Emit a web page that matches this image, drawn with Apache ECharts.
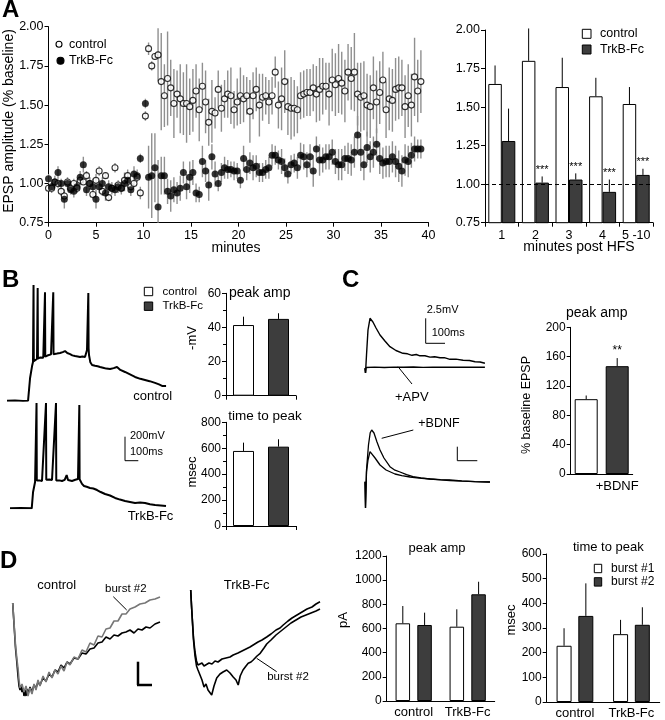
<!DOCTYPE html>
<html><head><meta charset="utf-8">
<script src="https://cdn.jsdelivr.net/npm/echarts@6/dist/echarts.min.js"></script>
<style>html,body{margin:0;padding:0;background:#fff}#c{width:665px;height:720px}</style>
</head><body><div id="c"></div>
<script>
// ---------------- DATA ----------------
// Panel A (left): EPSP amplitude vs time, sampled every 20 s
const BASE_START = 0, POST_START = 10.2, STEP_MIN = 1 / 3;
const ctrlBase = [0.97,0.97,1.01,1.00,0.95,0.92,1.01,0.97,1.00,0.97,1.02,1.01,1.05,1.00,0.93,1.02,1.08,0.95,1.05,0.91,0.97,1.10,0.99,0.97,1.02,1.05,0.98,1.00,1.04,0.94];
const ctrlBaseErr = [0.02,0.03,0.02,0.03,0.03,0.04,0.02,0.03,0.03,0.02,0.03,0.02,0.03,0.04,0.03,0.04,0.03,0.03,0.02,0.02,0.03,0.03,0.02,0.03,0.05,0.04,0.03,0.02,0.03,0.04];
const trkBase = [1.03,0.98,1.01,1.07,1.00,0.90,1.00,0.96,0.95,0.98,1.04,1.12,0.96,1.00,0.98,0.90,0.98,1.00,0.94,0.98,0.97,0.96,0.98,0.97,1.00,1.02,0.96,1.06,1.05,1.16];
const trkBaseErr = [0.03,0.03,0.04,0.04,0.03,0.06,0.04,0.03,0.04,0.04,0.04,0.05,0.04,0.04,0.05,0.06,0.04,0.04,0.05,0.04,0.04,0.04,0.04,0.04,0.05,0.05,0.04,0.05,0.04,0.03];
const ctrlPost = [1.43,1.86,1.75,1.81,1.82,1.65,1.56,1.67,1.61,1.51,
  1.57,1.54,1.51,1.51,1.49,1.53,1.59,1.47,1.62,1.52,
  1.39,1.46,1.45,1.60,1.48,1.54,1.57,1.56,1.47,1.52,
  1.56,1.54,1.56,1.46,1.56,1.60,1.50,1.55,1.56,1.52,
  1.56,1.71,1.50,1.54,1.65,1.49,1.48,1.48,1.47,1.56,
  1.57,1.58,1.58,1.61,1.57,1.60,1.62,1.62,1.57,1.66,
  1.63,1.67,1.64,1.59,1.71,1.67,1.71,1.57,1.55,1.56,
  1.50,1.49,1.61,1.52,1.58,1.66,1.47,1.54,1.53,1.60,
  1.61,1.61,1.49,1.56,1.50,1.68,1.59,1.65];
const ctrlPostErr = [0.03,0.04,0.03,0.02,0.17,0.31,0.20,0.30,0.18,0.22,
  0.15,0.22,0.20,0.25,0.18,0.20,0.17,0.20,0.15,0.20,
  0.15,0.20,0.10,0.12,0.15,0.12,0.15,0.18,0.12,0.15,
  0.18,0.15,0.12,0.20,0.15,0.14,0.20,0.15,0.12,0.14,
  0.12,0.10,0.15,0.20,0.20,0.18,0.20,0.18,0.15,0.15,
  0.15,0.15,0.15,0.15,0.18,0.20,0.18,0.15,0.20,0.20,
  0.20,0.22,0.20,0.20,0.18,0.20,0.25,0.20,0.22,0.22,
  0.20,0.20,0.20,0.20,0.20,0.18,0.18,0.20,0.20,0.20,
  0.20,0.18,0.20,0.20,0.20,0.25,0.20,0.20];
const trkPost = [1.51,1.04,1.05,1.10,0.85,1.05,1.05,0.95,0.92,0.96,
  0.94,0.97,1.07,0.98,1.04,1.07,0.94,0.93,1.14,1.08,
  0.99,1.17,1.06,1.00,1.07,1.10,1.09,1.09,1.08,1.08,
  1.02,1.16,1.09,1.13,1.10,1.11,1.07,1.07,1.09,1.10,
  1.18,1.18,1.15,1.14,1.10,1.06,1.12,1.13,1.10,1.18,
  1.17,1.12,1.17,1.08,1.22,1.15,1.15,1.17,1.17,1.20,
  1.14,1.12,1.12,1.16,1.16,1.15,1.20,1.31,1.20,1.12,
  1.23,1.17,1.20,1.25,1.16,1.13,1.14,1.14,1.17,1.14,
  1.11,1.08,1.15,1.14,1.18,1.22,1.22,1.22];
const trkPostErr = [0.03,0.20,0.27,0.22,0.30,0.12,0.12,0.08,0.10,0.08,
  0.07,0.08,0.07,0.08,0.10,0.08,0.06,0.05,0.10,0.07,
  0.10,0.08,0.08,0.05,0.06,0.07,0.06,0.05,0.06,0.05,
  0.05,0.08,0.07,0.07,0.08,0.07,0.06,0.06,0.06,0.07,
  0.07,0.06,0.06,0.08,0.06,0.06,0.06,0.06,0.07,0.08,
  0.08,0.08,0.08,0.10,0.08,0.10,0.08,0.08,0.08,0.08,
  0.08,0.10,0.10,0.08,0.10,0.10,0.10,0.12,0.12,0.10,
  0.10,0.10,0.10,0.10,0.10,0.10,0.10,0.10,0.10,0.10,
  0.10,0.10,0.10,0.10,0.08,0.08,0.06,0.06];

// Panel A (right): minutes post HFS
const hfsCats = ['1','2','3','4','5 -10'];
const hfsCtrl = [1.65,1.80,1.63,1.57,1.52];
const hfsCtrlHi = [1.77,2.01,1.82,1.69,1.63];
const hfsTrk = [1.28,1.01,1.03,0.95,1.06];
const hfsTrkHi = [1.49,1.05,1.07,1.03,1.10];
const hfsStars = ['','***','***','***','***'];

// Panel B bars
const bGroups = ['control','TrkB-Fc'];
const bPeak = [41.4,45.0], bPeakHi = [46.3,48.3];
const bTtp = [579,612], bTtpHi = [643,669];

// Panel C bars
const cCats = ['','+BDNF'];
const cPeak = [102,147], cPeakHi = [107,158];
const cStars = ['','**'];

// Panel D bars
const dCats = ['control','TrkB-Fc'];
const dPeakB1 = [643,615], dPeakB1Hi = [786,759];
const dPeakB2 = [629,883], dPeakB2Hi = [731,987];
const dTtpB1 = [228,275], dTtpB1Hi = [299,333];
const dTtpB2 = [349,313], dTtpB2Hi = [481,384];

// Traces [ms, mV] / [ms, pA]
const bCtrlTrace = [[0,0],[60,2],[120,-2],[158,0],[173,195],[188,298],[195,332],[199,994],[201,340],[203,350],[215,352],[225,359],[230,968],[232,362],[235,367],[250,372],[263,376],[272,370],[285,933],[287,378],[290,376],[303,388],[315,393],[330,398],[347,933],[349,400],[353,393],[375,405],[398,410],[418,418],[435,427],[452,410],[473,401],[490,390],[510,384],[530,380],[548,376],[565,380],[585,376],[600,436],[610,925],[612,450],[615,393],[625,330],[638,307],[660,300],[680,296],[698,290],[720,284],[745,276],[773,272],[800,280],[825,290],[850,265],[885,247],[915,230],[960,204],[1000,188],[1035,178],[1070,168],[1110,153],[1140,140],[1163,127],[1193,127]];
const bTrkTrace = [[0,0],[80,2],[163,0],[173,140],[188,226],[197,230],[199,906],[201,238],[203,235],[220,240],[240,235],[255,238],[270,906],[272,245],[275,243],[295,248],[315,243],[330,240],[345,906],[347,238],[350,235],[370,240],[390,235],[410,245],[425,286],[435,243],[450,238],[465,235],[490,245],[510,252],[520,889],[522,250],[525,243],[540,210],[555,192],[575,185],[600,175],[625,170],[653,157],[680,140],[713,123],[750,110],[788,89],[825,75],[863,63],[900,55],[938,46],[975,50],[1013,46],[1050,35],[1088,28],[1130,25],[1170,20]];
const cCtrlTop = [[0,0],[2.6,-0.47],[7.8,1.33],[15.5,3.83],[25.9,5.0],[41,4.63],[57,4.03],[77.6,3.33],[103,2.73],[129,2.16],[160,1.78],[196,1.5],[220,1.45],[243,1.3],[265,1.38],[284,1.25],[310,1.25],[336,1.12],[360,1.15],[388,1.05],[410,1.06],[439,0.9],[470,0.92],[507,0.8],[540,0.78],[569,0.65],[595,0.63],[620,0.5]];
const cApv = [[0,0],[2.6,-0.47],[6,0.08],[50,0.12],[100,0.08],[150,0.12],[200,0.1],[250,0.13],[300,0.09],[350,0.12],[400,0.1],[450,0.12],[500,0.1],[550,0.12],[620,0.1]];
const cBdnf = [[0,0],[2.6,-2.63],[7.8,1.17],[18,3.67],[27,4.9],[34.6,5.17],[46.5,4.87],[62,3.97],[77.6,3.17],[98,2.37],[129,1.5],[155,1.15],[181,0.97],[215,0.7],[248,0.5],[290,0.38],[336,0.27],[390,0.2],[439,0.17],[500,0.08],[569,0],[646,-0.03]];
const cCtrlBottom = [[0,0],[2.6,-2.63],[7.8,0.97],[15.5,2.17],[25.9,3.0],[36,2.87],[52,2.37],[77.6,1.67],[109,1.17],[155,0.77],[190,0.6],[233,0.47],[280,0.36],[336,0.27],[390,0.18],[439,0.12],[500,0.06],[569,0],[646,-0.03]];
const dCtrlBurst1 = [[0,-30],[1.6,-160],[3.6,-320],[5.6,-480],[8.6,-640],[10.6,-760],[12.6,-860],[14.6,-900],[16.6,-860],[18.6,-920],[20.6,-880],[22.6,-960],[24.6,-900],[26.6,-960],[28.6,-890],[30.6,-940],[34.6,-870],[38.6,-920],[42.6,-850],[46.6,-880],[50.6,-820],[54.6,-850],[60.6,-780],[66.6,-810],[72.6,-740],[78.6,-770],[84.6,-700],[90.6,-720],[96.6,-650],[102.6,-680],[108.6,-620],[114.6,-640],[122.6,-580],[130.6,-590],[138.6,-530],[146.6,-540],[154.6,-490],[162.6,-480],[170.6,-430],[178.6,-420],[186.6,-370],[194.6,-390],[202.6,-350],[210.6,-360],[218.6,-330],[226.6,-320],[234.6,-300],[242.6,-330],[250.6,-290],[258.6,-300],[266.6,-270],[274.6,-280],[284.6,-240],[294.6,-220]];
const dCtrlBurst2 = [[0,-30],[1.6,-150],[3.6,-300],[5.6,-450],[8.6,-600],[10.6,-680],[12.6,-800],[14.6,-880],[18.6,-840],[22.6,-920],[26.6,-860],[30.6,-960],[34.6,-880],[38.6,-940],[42.6,-840],[46.6,-900],[50.6,-800],[54.6,-860],[60.6,-760],[66.6,-820],[72.6,-720],[78.6,-780],[84.6,-700],[90.6,-740],[96.6,-660],[102.6,-710],[108.6,-620],[114.6,-650],[122.6,-570],[130.6,-590],[138.6,-500],[146.6,-520],[154.6,-430],[162.6,-450],[170.6,-360],[178.6,-370],[186.6,-290],[194.6,-280],[202.6,-210],[210.6,-210],[218.6,-140],[226.6,-140],[234.6,-90],[244.6,-70],[254.6,-40],[264.6,-30],[274.6,0],[284.6,10],[294.6,30]];
const dTrkBurst1 = [[0,100],[1.6,-50],[3.6,-220],[5.6,-380],[8.6,-520],[11.6,-610],[14.6,-650],[18.6,-650],[22.6,-630],[26.6,-660],[30.6,-640],[36.6,-630],[42.6,-640],[48.6,-610],[54.6,-620],[62.6,-590],[70.6,-580],[78.6,-570],[85,-550],[94.6,-530],[102.6,-510],[110.6,-490],[118.6,-470],[125,-450],[134.6,-420],[142.6,-400],[152,-370],[160.6,-340],[170.6,-300],[178.6,-280],[185,-250],[194.6,-210],[202.6,-180],[212.6,-150],[222.6,-120],[232.6,-90],[242.6,-70],[250.6,-40],[258.6,-17]];
const dTrkBurst2 = [[0,100],[1.6,-60],[3.6,-230],[5.6,-400],[8.6,-560],[11.6,-660],[14.6,-700],[18.6,-720],[22.6,-800],[26.6,-870],[30.6,-840],[34.6,-900],[38.6,-920],[42,-950],[46.6,-860],[52,-780],[58.6,-740],[64.6,-720],[72,-700],[78.6,-730],[85,-770],[90.6,-800],[95,-850],[99,-760],[104.6,-700],[110.6,-660],[115,-633],[120.6,-620],[125,-600],[132.6,-560],[139,-533],[146.6,-480],[152,-440],[160.6,-400],[170.6,-350],[180.6,-310],[190.6,-270],[200.6,-230],[210.6,-200],[220.6,-170],[230.6,-150],[240.6,-130],[250.6,-110],[258.6,-90]];

// ---------------- BUILD ----------------
const FF = "'Liberation Sans', Arial, Helvetica, sans-serif";
const DARK = '#3d3d3d';
const GRAY = '#8f8f8f';
const plain = v => String(v);

function times(base, post) {
  return base.map((v, i) => BASE_START + i * STEP_MIN).concat(post.map((v, i) => POST_START + i * STEP_MIN));
}
const tAll = times(ctrlBase, ctrlPost);
const ctrlAll = ctrlBase.concat(ctrlPost), ctrlErrAll = ctrlBaseErr.concat(ctrlPostErr);
const trkAll = trkBase.concat(trkPost), trkErrAll = trkBaseErr.concat(trkPostErr);

function lab(size, margin, fmt) {
  return { color: '#000', fontSize: size, fontFamily: FF, margin, formatter: fmt || plain, interval: 0, hideOverlap: false };
}
function vAxis(gridIndex, min, max, interval, extra) {
  return Object.assign({
    type: 'value', gridIndex, min, max, interval,
    axisLine: { show: true, lineStyle: { color: '#000', width: 1 } },
    axisTick: { show: true, length: 4, lineStyle: { color: '#000' } },
    axisLabel: lab(12, 5),
    splitLine: { show: false }
  }, extra || {});
}
function cAxis(gridIndex, data, extra) {
  return Object.assign({
    type: 'category', gridIndex, data,
    axisLine: { show: true, lineStyle: { color: '#000', width: 1 } },
    axisTick: { show: true, length: 4, lineStyle: { color: '#000' } },
    axisLabel: { color: '#000', fontSize: 12, fontFamily: FF, margin: 5, interval: 0 },
    splitLine: { show: false }
  }, extra || {});
}
function hAxis(gridIndex, min, max) { return { type: 'value', gridIndex, min, max, show: false }; }
function catLab(size, margin) { return { color: '#000', fontSize: size, fontFamily: FF, margin, interval: 0, hideOverlap: false }; }

const grids = [
  { left: 48.5, top: 26.7, width: 380, height: 196 },      // 0 A scatter
  { left: 485, top: 30, width: 168, height: 192.7 },       // 1 A bars
  { left: 226, top: 293.3, width: 70, height: 102.4 },     // 2 B peak
  { left: 226, top: 422.3, width: 70, height: 103.7 },     // 3 B ttp
  { left: 570.7, top: 327.3, width: 62, height: 146.7 },   // 4 C bars
  { left: 386.7, top: 556, width: 108, height: 145 },      // 5 D peak
  { left: 546.7, top: 554, width: 113, height: 148.3 },    // 6 D ttp
  { left: 7, top: 284.4, width: 159, height: 116.3 },      // 7 B ctrl trace
  { left: 10, top: 392, width: 156, height: 116.3 },       // 8 B trk trace
  { left: 365, top: 313.3, width: 120, height: 65 },       // 9 C top traces
  { left: 365, top: 426.7, width: 125, height: 85 },       // 10 C bottom traces
  { left: 12.7, top: 590, width: 147.3, height: 110 },     // 11 D ctrl traces
  { left: 190.7, top: 590, width: 131.3, height: 110 }     // 12 D trk traces
];

const xAxes = [
  vAxis(0, 0, 40, 5, { axisLabel: lab(12.5, 6) }),
  cAxis(1, hfsCats, { axisLabel: catLab(12.5, 6) }),
  cAxis(2, bGroups, { axisLabel: { show: false } }),
  cAxis(3, bGroups, { axisLabel: { show: false } }),
  cAxis(4, cCats, { axisTick: { show: false }, axisLabel: catLab(13, 6) }),
  cAxis(5, dCats, { axisTick: { show: false }, axisLabel: catLab(13, 5) }),
  cAxis(6, dCats, { axisTick: { show: false }, axisLabel: catLab(13, 5) }),
  hAxis(7, 0, 1192.5), hAxis(8, 0, 1170), hAxis(9, 0, 620.4), hAxis(10, 0, 646.25),
  hAxis(11, 0, 294.6), hAxis(12, 0, 262.6)
];
const f2 = v => v.toFixed(2);
const yAxes = [
  vAxis(0, 0.75, 2.0, 0.25, { axisLabel: lab(12.5, 5, f2) }),
  vAxis(1, 0.75, 2.0, 0.25, { axisLabel: lab(12.5, 5, f2) }),
  vAxis(2, 0, 60, 20, { minorTick: { show: true, splitNumber: 2, length: 3, lineStyle: { color: '#000' } } }),
  vAxis(3, 0, 800, 200, { minorTick: { show: true, splitNumber: 2, length: 3, lineStyle: { color: '#000' } } }),
  vAxis(4, 0, 200, 40),
  vAxis(5, 0, 1200, 200),
  vAxis(6, 0, 600, 100),
  hAxis(7, 0, 1000), hAxis(8, 0, 1000), hAxis(9, -1, 5.5), hAxis(10, -3, 5.5),
  hAxis(11, -1000, 100), hAxis(12, -1000, 100)
];

// error bar renderers
function scatterErr(xi, data) {
  return {
    type: 'custom', xAxisIndex: xi, yAxisIndex: xi, clip: true, silent: true, z: 1,
    renderItem: (p, api) => {
      const x = api.value(0), v = api.value(1), e = api.value(2);
      const a = api.coord([x, v - e]), b = api.coord([x, v + e]);
      return { type: 'line', shape: { x1: a[0], y1: a[1], x2: b[0], y2: b[1] }, style: { stroke: GRAY, lineWidth: 1.4 } };
    },
    data
  };
}
function barErr(ai, tops, his, offset, stars, starSize) {
  return {
    type: 'custom', xAxisIndex: ai, yAxisIndex: ai, silent: true, z: 5,
    renderItem: (p, api) => {
      const c = api.value(0);
      const a = api.coord([c, api.value(1)]), b = api.coord([c, api.value(2)]);
      const x = a[0] + offset;
      const kids = [{ type: 'line', shape: { x1: x, y1: a[1], x2: x, y2: b[1] }, style: { stroke: '#000', lineWidth: 1 } }];
      const s = stars ? stars[p.dataIndex] : '';
      if (s) kids.push({ type: 'text', style: { text: s, x: x, y: b[1] - 1, textAlign: 'center', textVerticalAlign: 'bottom', fontSize: starSize || 11, fontFamily: FF, fill: '#000' } });
      return { type: 'group', children: kids };
    },
    data: tops.map((v, i) => [i, v, his[i]])
  };
}
const whiteBar = { color: '#fff', borderColor: '#000', borderWidth: 1 };
const darkBar = { color: DARK, borderColor: '#000', borderWidth: 1 };
function pairColored(vals) { return vals.map((v, i) => ({ value: v, itemStyle: i === 0 ? whiteBar : darkBar })); }
function trace(ai, data, color, width) {
  return { type: 'line', xAxisIndex: ai, yAxisIndex: ai, data, showSymbol: false, symbol: 'none', silent: true,
    lineStyle: { color: color || '#000', width: width || 1.5 }, animation: false };
}

const series = [
  // A scatter
  scatterErr(0, tAll.map((t, i) => [t, ctrlAll[i], ctrlErrAll[i]])),
  scatterErr(0, tAll.map((t, i) => [t, trkAll[i], trkErrAll[i]])),
  { type: 'scatter', name: 'control', xAxisIndex: 0, yAxisIndex: 0, symbol: 'circle', symbolSize: 6, z: 3,
    itemStyle: { color: '#fff', borderColor: '#000', borderWidth: 1.1 }, data: tAll.map((t, i) => [t, ctrlAll[i]]) },
  { type: 'scatter', name: 'TrkB-Fc', xAxisIndex: 0, yAxisIndex: 0, symbol: 'circle', symbolSize: 7, z: 4,
    itemStyle: { color: '#000' }, data: tAll.map((t, i) => [t, trkAll[i]]) },
  // A bars
  { type: 'bar', name: 'control', xAxisIndex: 1, yAxisIndex: 1, barWidth: 13.5, barGap: '0%', itemStyle: whiteBar, data: hfsCtrl },
  { type: 'bar', name: 'TrkB-Fc', xAxisIndex: 1, yAxisIndex: 1, barWidth: 13.5, barGap: '0%', itemStyle: darkBar, data: hfsTrk,
    markLine: { silent: true, symbol: 'none', label: { show: false }, lineStyle: { color: '#000', type: [4, 3], width: 1 }, data: [{ yAxis: 1 }] } },
  barErr(1, hfsCtrl, hfsCtrlHi, -6.75, null),
  barErr(1, hfsTrk, hfsTrkHi, 6.75, hfsStars, 11),
  // B
  { type: 'bar', xAxisIndex: 2, yAxisIndex: 2, barWidth: 21, data: pairColored(bPeak) },
  barErr(2, bPeak, bPeakHi, 0, null),
  { type: 'bar', xAxisIndex: 3, yAxisIndex: 3, barWidth: 21, data: pairColored(bTtp) },
  barErr(3, bTtp, bTtpHi, 0, null),
  // C
  { type: 'bar', xAxisIndex: 4, yAxisIndex: 4, barWidth: 23, data: pairColored(cPeak) },
  barErr(4, cPeak, cPeakHi, 0, cStars, 12),
  // D
  { type: 'bar', name: 'burst #1', xAxisIndex: 5, yAxisIndex: 5, barWidth: 14.5, barGap: '50%', itemStyle: whiteBar, data: dPeakB1 },
  { type: 'bar', name: 'burst #2', xAxisIndex: 5, yAxisIndex: 5, barWidth: 14.5, barGap: '50%', itemStyle: darkBar, data: dPeakB2 },
  barErr(5, dPeakB1, dPeakB1Hi, -10.9, null),
  barErr(5, dPeakB2, dPeakB2Hi, 10.9, null),
  { type: 'bar', name: 'burst #1', xAxisIndex: 6, yAxisIndex: 6, barWidth: 15, barGap: '45%', itemStyle: whiteBar, data: dTtpB1 },
  { type: 'bar', name: 'burst #2', xAxisIndex: 6, yAxisIndex: 6, barWidth: 15, barGap: '45%', itemStyle: darkBar, data: dTtpB2 },
  barErr(6, dTtpB1, dTtpB1Hi, -10.9, null),
  barErr(6, dTtpB2, dTtpB2Hi, 10.9, null),
  // traces
  trace(7, bCtrlTrace, '#000', 2),
  trace(8, bTrkTrace, '#000', 2),
  trace(9, cCtrlTop, '#000', 1.4),
  trace(9, cApv, '#000', 1.4),
  trace(10, cBdnf, '#000', 1.3),
  trace(10, cCtrlBottom, '#000', 1.3),
  trace(11, dCtrlBurst1, '#000', 1.6),
  trace(11, dCtrlBurst2, '#777', 1.6),
  trace(12, dTrkBurst1, '#000', 1.6),
  trace(12, dTrkBurst2, '#000', 1.6)
];

// annotations
function T(text, x, y, size, align, extra) {
  return Object.assign({ type: 'text', x, y, silent: true,
    style: Object.assign({ text, fill: '#000', fontSize: size, fontFamily: FF, textAlign: align || 'center', textVerticalAlign: 'middle' }, (extra && extra.style) || {}) },
    extra && extra.rotation ? { rotation: extra.rotation } : {});
}
function VT(text, x, y, size) { return T(text, x, y, size, 'center', { rotation: Math.PI / 2 }); }
function L(x1, y1, x2, y2, w) { return { type: 'line', silent: true, shape: { x1, y1, x2, y2 }, style: { stroke: '#000', lineWidth: w || 1 } }; }
function R(x, y, w, h, fill) { return { type: 'rect', silent: true, shape: { x, y, width: w, height: h }, style: { fill, stroke: '#000', lineWidth: 1 } }; }
function C(cx, cy, r, fill) { return { type: 'circle', silent: true, shape: { cx, cy, r }, style: { fill, stroke: '#000', lineWidth: 1.1 } }; }
const bold = { style: { fontWeight: 'bold' } };

const graphics = [
  T('A', 2, 10, 24, 'left', bold), T('B', 2, 280, 24, 'left', bold),
  T('C', 342, 280, 24, 'left', bold), T('D', 0, 561, 24, 'left', bold),
  // A left
  C(59, 44.3, 3, '#fff'), T('control', 69, 44.3, 12.5, 'left'),
  C(60.5, 60.7, 3.5, '#000'), T('TrkB-Fc', 69, 60.7, 12.5, 'left'),
  T('minutes', 236, 248, 14), VT('EPSP amplitude (% baseline)', 9, 121, 14),
  // A right
  R(582.3, 29.3, 8.7, 9, '#fff'), T('control', 600, 34, 12.5, 'left'),
  R(582.3, 45, 8.7, 9, DARK), T('TrkB-Fc', 600, 49.5, 12.5, 'left'),
  T('minutes post HFS', 579, 247, 14),
  // B
  R(144.3, 287.3, 8.4, 8.4, '#fff'), T('control', 162.5, 291.5, 11.5, 'left'),
  R(144.3, 302, 8.4, 8.4, DARK), T('TrkB-Fc', 162.5, 306, 11.5, 'left'),
  T('peak amp', 259.7, 293.3, 14), T('time to peak', 265, 416, 13.5),
  VT('-mV', 192, 338, 13), VT('msec', 192, 472, 13),
  T('control', 152.7, 396.7, 13), T('TrkB-Fc', 150.5, 516.7, 13),
  L(125, 436.7, 125, 460.7), L(125, 460.7, 138.3, 460.7),
  T('200mV', 130, 436, 11, 'left'), T('100ms', 130, 452, 11, 'left'),
  // C
  T('2.5mV', 426.7, 310, 11, 'left'), T('100ms', 431.7, 333, 11, 'left'),
  L(425.7, 318.3, 425.7, 343.3), L(425.7, 343.3, 445, 343.3),
  T('+APV', 395, 397, 13, 'left'), L(398, 366.7, 412, 384),
  T('+BDNF', 418.3, 423.3, 12.5, 'left'), L(381.7, 438.3, 413.3, 430),
  L(457.3, 446.7, 457.3, 460.7), L(457.3, 460.7, 477.3, 460.7),
  T('peak amp', 596.7, 313.3, 14), VT('% baseline EPSP', 527, 405, 12.5),
  // D
  T('control', 56.7, 585, 13), T('TrkB-Fc', 246.7, 585, 13),
  T('burst #2', 125.8, 589.3, 11.5), L(113.3, 596.7, 126.7, 610),
  T('burst #2', 288, 676.7, 11.5), L(256.7, 658.3, 276.7, 671.7),
  L(138, 661.7, 138, 685, 2.5), L(137, 685, 152, 685, 2.5),
  T('peak amp', 437, 548.3, 13), T('time to peak', 608.3, 547.3, 13),
  VT('pA', 343.3, 620, 13), VT('msec', 511.7, 620, 13),
  R(594.3, 564.3, 7.4, 8.4, '#fff'), T('burst #1', 611, 568.5, 12, 'left'),
  R(594.3, 577.7, 7.4, 8.4, DARK), T('burst #2', 611, 582, 12, 'left')
];

const chart = echarts.init(document.getElementById('c'), null, { renderer: 'canvas' });
chart.setOption({
  animation: false,
  backgroundColor: '#fff',
  textStyle: { fontFamily: FF },
  grid: grids,
  xAxis: xAxes,
  yAxis: yAxes,
  series,
  graphic: graphics
});
</script></body></html>
